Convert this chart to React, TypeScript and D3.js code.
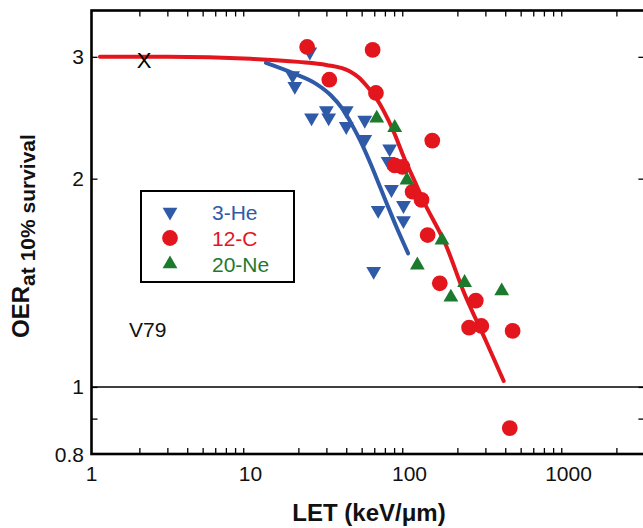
import React, { useEffect, useRef } from 'react';
import * as d3 from 'd3';

// 3-He points (LET keV/um, OER)
const heLET = [23.6, 18.4, 19, 24.2, 30, 31, 40, 40, 52.3, 52.3, 75, 73.3, 77, 91.6, 63.5, 91.6, 59.5];
const heOER = [3.05, 2.82, 2.72, 2.45, 2.51, 2.45, 2.51, 2.38, 2.43, 2.28, 2.21, 2.12, 1.93, 1.83, 1.8, 1.74, 1.47];

// 12-C points
const cLET = [22.7, 58.6, 31.3, 61.5, 139, 80.7, 90.3, 104.5, 119, 130, 155, 261, 237, 283, 445, 427];
const cOER = [3.1, 3.07, 2.78, 2.66, 2.27, 2.09, 2.08, 1.915, 1.864, 1.658, 1.412, 1.333, 1.218, 1.225, 1.205, 0.872];

// 20-Ne points
const neLET = [62.2, 80.7, 96.3, 160, 112, 222, 182, 380];
const neOER = [2.445, 2.37, 1.99, 1.63, 1.5, 1.415, 1.348, 1.376];

// fitted curves
const heFitLET = [12.5, 18.6, 26, 32, 38, 44, 49, 57, 65, 72, 83, 98];
const heFitOER = [2.94, 2.84, 2.74, 2.64, 2.52, 2.38, 2.27, 2.1, 1.95, 1.84, 1.7, 1.56];
const cFitLET = [1.13, 3, 10, 20, 30, 42, 48, 54, 62, 68.5, 80, 92, 108, 122, 170, 217, 300, 391];
const cFitOER = [3.0, 3.0, 2.98, 2.95, 2.92, 2.86, 2.8, 2.72, 2.61, 2.51, 2.33, 2.15, 1.98, 1.86, 1.6, 1.38, 1.17, 1.02];

// "X" reference point
const xLET = [2.14];
const xOER = [2.97];

const xTickLabels = [1, 10, 100, 1000];
const yTickLabels = [0.8, 1, 2, 3];
const yMinorTicks = [0.9, 1, 2, 3];

const legendItems = [
    { name: '3-He', color: '#2f5aa8', shape: 'down' },
    { name: '12-C', color: '#e3161e', shape: 'circle' },
    { name: '20-Ne', color: '#1c7a2e', shape: 'up' },
];

const font = "'Liberation Sans', Arial, Helvetica, sans-serif";

const App = () => {
    const ref = useRef(null);

    const width = 643;
    const height = 528;
    const plot_left = 91.5;
    const plot_right = 644.4;
    const plot_top = 10.5;
    const plot_bottom = 454;

    useEffect(() => {
        document.body.style.margin = '0';
        const svg = d3.select(ref.current);
        svg.selectAll('*').remove();

        const x = d3.scaleLog().domain([1, 3000]).range([plot_left, plot_right]);
        const y = d3.scaleLog().domain([0.8, 3.5]).range([plot_bottom, plot_top]);

        const minorX = [];
        [1, 10, 100, 1000].forEach(dec => {
            for (let k = 2; k <= 9; k++) if (dec * k <= 3000) minorX.push(dec * k);
        });

        // horizontal line at OER = 1
        svg.append('line')
            .attr('x1', plot_left).attr('x2', plot_right)
            .attr('y1', y(1)).attr('y2', y(1))
            .attr('stroke', '#000').attr('stroke-width', 1.4);

        // ticks (inward)
        const tickStyle = g => {
            g.select('.domain').remove();
            g.selectAll('line').attr('stroke', '#000').attr('stroke-width', 1.3);
        };
        svg.append('g').attr('transform', `translate(0,${plot_bottom})`)
            .call(d3.axisBottom(x).tickValues(minorX).tickSize(-6).tickFormat(() => ''))
            .call(tickStyle);
        svg.append('g').attr('transform', `translate(0,${plot_top})`)
            .call(d3.axisTop(x).tickValues(minorX).tickSize(-6).tickFormat(() => ''))
            .call(tickStyle);
        svg.append('g').attr('transform', `translate(${plot_left},0)`)
            .call(d3.axisLeft(y).tickValues(yMinorTicks).tickSize(-6).tickFormat(() => ''))
            .call(tickStyle);
        svg.append('g').attr('transform', `translate(${plot_right},0)`)
            .call(d3.axisRight(y).tickValues(yMinorTicks).tickSize(-6).tickFormat(() => ''))
            .call(tickStyle);

        // tick labels
        svg.append('g').selectAll('text')
            .data(xTickLabels).enter().append('text')
            .attr('x', d => x(d)).attr('y', 481)
            .attr('text-anchor', 'middle')
            .style('font-family', font).style('font-size', '21px')
            .attr('fill', '#111')
            .text(d => d);
        svg.append('g').selectAll('text')
            .data(yTickLabels).enter().append('text')
            .attr('x', 84).attr('y', d => y(d) + 7.5)
            .attr('text-anchor', 'end')
            .style('font-family', font).style('font-size', '21px')
            .attr('fill', '#111')
            .text(d => d);

        // frame
        svg.append('rect')
            .attr('x', plot_left).attr('y', plot_top)
            .attr('width', plot_right - plot_left).attr('height', plot_bottom - plot_top)
            .attr('fill', 'none').attr('stroke', '#000').attr('stroke-width', 2.6);

        // curves
        const line = d3.line().x(d => x(d[0])).y(d => y(d[1])).curve(d3.curveMonotoneX);
        svg.append('path')
            .datum(cFitLET.map((v, i) => [v, cFitOER[i]]))
            .attr('d', line)
            .attr('fill', 'none').attr('stroke', '#e3161e').attr('stroke-width', 4)
            .attr('stroke-linecap', 'round');
        svg.append('path')
            .datum(heFitLET.map((v, i) => [v, heFitOER[i]]))
            .attr('d', line)
            .attr('fill', 'none').attr('stroke', '#2f5aa8').attr('stroke-width', 4)
            .attr('stroke-linecap', 'round');

        const triUp = d3.symbol().type(d3.symbolTriangle).size(95);
        const circle = d3.symbol().type(d3.symbolCircle).size(195);

        // 3-He
        svg.append('g').selectAll('path')
            .data(heLET.map((v, i) => [v, heOER[i]])).enter().append('path')
            .attr('d', triUp())
            .attr('transform', d => `translate(${x(d[0])},${y(d[1])}) rotate(180)`)
            .attr('fill', '#2f5aa8');

        // 12-C
        svg.append('g').selectAll('path')
            .data(cLET.map((v, i) => [v, cOER[i]])).enter().append('path')
            .attr('d', circle())
            .attr('transform', d => `translate(${x(d[0])},${y(d[1])})`)
            .attr('fill', '#e3161e');

        // 20-Ne
        svg.append('g').selectAll('path')
            .data(neLET.map((v, i) => [v, neOER[i]])).enter().append('path')
            .attr('d', triUp())
            .attr('transform', d => `translate(${x(d[0])},${y(d[1])})`)
            .attr('fill', '#1c7a2e');

        // X marker
        svg.append('g').selectAll('text')
            .data(xLET.map((v, i) => [v, xOER[i]])).enter().append('text')
            .attr('x', d => x(d[0])).attr('y', d => y(d[1]) + 8)
            .attr('text-anchor', 'middle')
            .style('font-family', font).style('font-size', '22px')
            .attr('fill', '#000')
            .text('X');

        // legend
        const legend = svg.append('g').attr('transform', 'translate(141,191)');
        legend.append('rect')
            .attr('width', 153).attr('height', 91)
            .attr('fill', '#fff').attr('stroke', '#000').attr('stroke-width', 2);
        const rows = legend.selectAll('.legend-row')
            .data(legendItems).enter().append('g')
            .attr('class', 'legend-row')
            .attr('transform', (d, i) => `translate(29,${21 + i * 26})`);
        rows.append('path')
            .attr('d', d => (d.shape === 'circle' ? circle() : triUp()))
            .attr('transform', d => (d.shape === 'down' ? 'rotate(180)' : ''))
            .attr('fill', d => d.color);
        rows.append('text')
            .attr('x', 42).attr('y', 8)
            .style('font-family', font).style('font-size', '21px')
            .attr('fill', d => d.color)
            .text(d => d.name);

        // V79 label
        svg.append('text')
            .attr('x', 129).attr('y', 337)
            .style('font-family', font).style('font-size', '21px')
            .attr('fill', '#111')
            .text('V79');

        // axis titles
        svg.append('text')
            .attr('x', 369).attr('y', 521)
            .attr('text-anchor', 'middle')
            .style('font-family', font).style('font-size', '24px').style('font-weight', 'bold')
            .attr('fill', '#111')
            .text('LET (keV/\u03bcm)');

        const ylab = svg.append('text')
            .attr('transform', 'translate(29,236) rotate(-90)')
            .attr('text-anchor', 'middle')
            .style('font-family', font).style('font-weight', 'bold')
            .attr('fill', '#111');
        ylab.append('tspan').style('font-size', '24px').text('OER');
        ylab.append('tspan').attr('dy', 6).style('font-size', '21px').text('at 10% survival');
    }, []);

    return (
        <div style={{ position: 'absolute', left: 0, top: 0 }}>
            <svg ref={ref} width={width} height={height} style={{ display: 'block', background: '#fff' }}></svg>
        </div>
    );
};

export default App;
